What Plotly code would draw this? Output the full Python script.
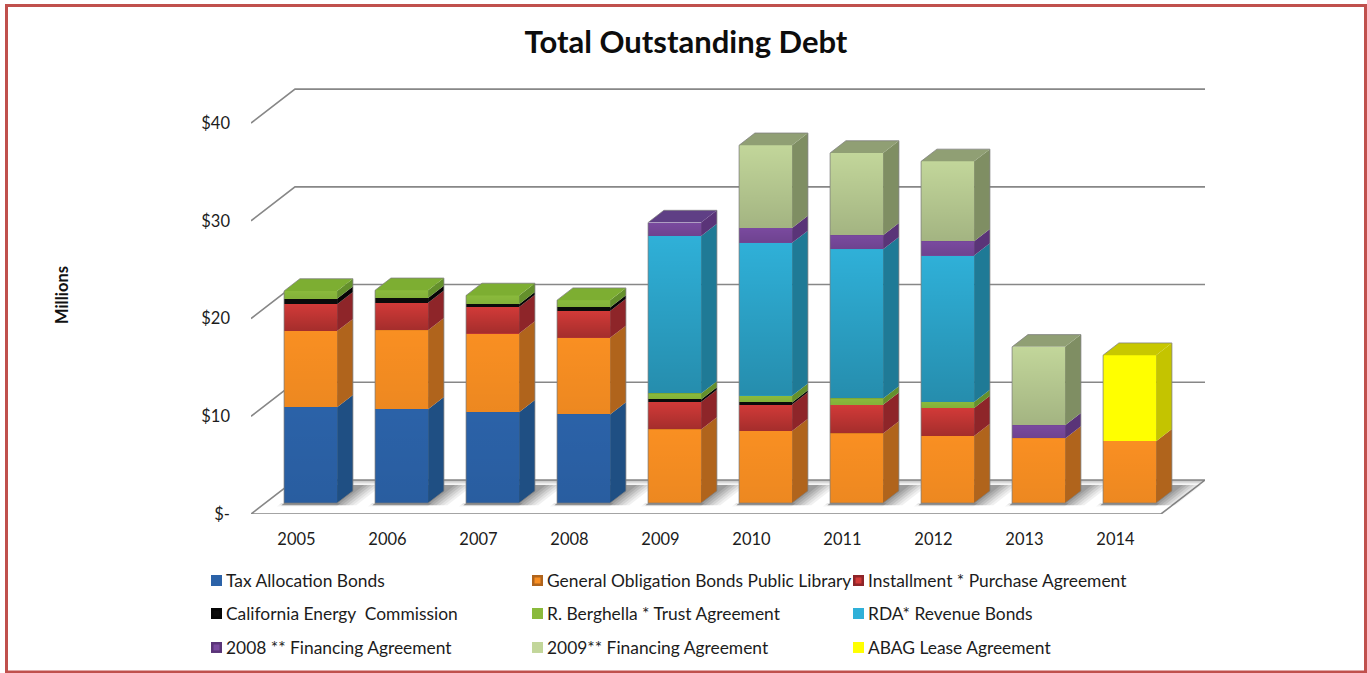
import plotly.graph_objects as go

# Chart data, in millions of dollars
years = ["2005", "2006", "2007", "2008", "2009", "2010", "2011", "2012", "2013", "2014"]
tax_allocation = [9.8, 9.6, 9.3, 9.07, 0, 0, 0, 0, 0, 0]
general_obligation = [7.8, 8.1, 8.05, 7.84, 7.54, 7.37, 7.13, 6.88, 6.62, 6.34]
installment = [2.76, 2.8, 2.72, 2.76, 2.82, 2.73, 2.93, 2.86, 0, 0]
california_energy = [0.55, 0.5, 0.28, 0.35, 0.25, 0.2, 0, 0, 0, 0]
berghella_trust = [0.8, 0.78, 0.9, 0.75, 0.61, 0.68, 0.65, 0.61, 0, 0]
rda_revenue = [0, 0, 0, 0, 16.12, 15.65, 15.27, 14.98, 0, 0]
financing_2008 = [0, 0, 0, 0, 1.37, 1.53, 1.43, 1.46, 1.36, 0]
financing_2009 = [0, 0, 0, 0, 0, 8.46, 8.42, 8.18, 8.01, 0]
abag_lease = [0, 0, 0, 0, 0, 0, 0, 0, 0, 8.8]

series_names = [
    "Tax Allocation Bonds", "General Obligation Bonds Public Library",
    "Installment * Purchase Agreement", "California Energy  Commission",
    "R. Berghella * Trust Agreement", "RDA* Revenue Bonds",
    "2008 ** Financing Agreement", "2009** Financing Agreement", "ABAG Lease Agreement",
]
series_values = [
    tax_allocation, general_obligation, installment, california_energy,
    berghella_trust, rda_revenue, financing_2008, financing_2009, abag_lease,
]
y_ticks = [0, 10, 20, 30, 40]
y_tick_labels = ["$-", "$10", "$20", "$30", "$40"]

# Face colours per series: front, side, top
front_colors = ["#2b62a8", "#f98f22", "#d23a38", "#0b0b0b", "#8aba3c", "#2fb0d8", "#7a4a9f", "#c2d69a", "#ffff00"]
side_colors = ["#1f4f83", "#b0641c", "#8e2529", "#060606", "#64902c", "#1f7a96", "#5a3478", "#7f8e63", "#c4c400"]
top_colors = ["#2a5c98", "#c87a20", "#a52d2d", "#111111", "#7dae32", "#2490b0", "#5f3f85", "#909f74", "#c8c800"]
gradient_strength = [0.05, 0.05, 0.22, 0.0, 0.05, 0.2, 0.1, 0.16, 0.0]

# Pixel layout of the plotting frame
WIDTH, HEIGHT = 1367, 673
LEFT, RIGHT_EDGE, BOTTOM_PX = 251, 1205, 514
PX_PER_CAT, PX_PER_UNIT = 91.0, 9.775
Y_MAX = 44.0
TOP_PX = BOTTOM_PX - Y_MAX * PX_PER_UNIT

# Oblique projection: how far a full step into the depth moves a point
WALL_DX = 44 / PX_PER_CAT
WALL_DY = 34 / PX_PER_UNIT
BAR_FRONT, BAR_BACK = 0.32, 0.68
BAR_WIDTH = 53 / PX_PER_CAT
GRID_COLOR = "#878787"


def project(x, y, depth):
    return x + depth * WALL_DX, y + depth * WALL_DY


def paper_x(px):
    return (px - LEFT) / (RIGHT_EDGE - LEFT)


def paper_y(py):
    return (BOTTOM_PX - py) / (BOTTOM_PX - TOP_PX)


def polygon_path(points):
    return "M" + " L".join(f"{x:.4f},{y:.4f}" for x, y in points) + " Z"


def face(x0, x1, y0, y1, depth):
    return [project(x0, y0, depth), project(x1, y0, depth), project(x1, y1, depth), project(x0, y1, depth)]


def side_face(x, y0, y1):
    return [project(x, y0, BAR_FRONT), project(x, y0, BAR_BACK), project(x, y1, BAR_BACK), project(x, y1, BAR_FRONT)]


def top_face(x0, x1, y):
    return [project(x0, y, BAR_FRONT), project(x1, y, BAR_FRONT), project(x1, y, BAR_BACK), project(x0, y, BAR_BACK)]


def floor_patch(x0, x1, d0, d1):
    return [project(x0, 0, d0), project(x1, 0, d0), project(x1, 0, d1), project(x0, 0, d1)]


def add_polygon(fig, points, color):
    xs = [p[0] for p in points] + [points[0][0]]
    ys = [p[1] for p in points] + [points[0][1]]
    fig.add_trace(go.Scatter(x=xs, y=ys, mode="lines", fill="toself", fillcolor=color,
                             line=dict(width=0, color=color), hoverinfo="skip", showlegend=False))


fig = go.Figure()
n = len(years)
cum = [0.0] * n
shapes = []

# Floor plate
floor_left, floor_right = -0.5, n - 0.5
shapes.append(dict(type="path", path=polygon_path(floor_patch(floor_left, floor_right, 0, 1)),
                   xref="x", yref="y", layer="below", fillcolor="white",
                   line=dict(color=GRID_COLOR, width=1.6)))
# Soft band along the back of the floor
for d0, alpha in ((0.87, 0.14), (0.91, 0.14), (0.95, 0.14)):
    shapes.append(dict(type="path", path=polygon_path(floor_patch(floor_left + (1 - d0) * 0.2, floor_right, d0, 1)),
                       xref="x", yref="y", layer="below", fillcolor=f"rgba(120,120,120,{alpha})", line=dict(width=0)))

# Wall gridlines: a diagonal up the side wall, then along the back wall
for v in y_ticks[1:]:
    a, b, c = project(floor_left, v, 0), project(floor_left, v, 1), project(floor_right, v, 1)
    path = f"M{a[0]:.4f},{a[1]:.4f} L{b[0]:.4f},{b[1]:.4f} L{c[0]:.4f},{c[1]:.4f}"
    shapes.append(dict(type="path", path=path, xref="x", yref="y", layer="below",
                       line=dict(color=GRID_COLOR, width=1.6)))

# Shadows the bars cast on the floor, layered so that they fade away from the column
for i in range(n):
    x0, x1 = i - BAR_WIDTH / 2, i + BAR_WIDTH / 2
    for reach, alpha in ((0.24, 0.08), (0.20, 0.08), (0.16, 0.10), (0.12, 0.12), (0.08, 0.12), (0.04, 0.14)):
        shapes.append(dict(type="path", path=polygon_path(floor_patch(x0, x1 + reach, 0.26, 0.85)),
                           xref="x", yref="y", layer="below",
                           fillcolor=f"rgba(60,60,60,{alpha})", line=dict(width=0)))
    for d0, alpha in ((0.22, 0.06), (0.27, 0.08)):
        shapes.append(dict(type="path", path=polygon_path(floor_patch(x0 - 0.03, x1 + 0.04, d0, BAR_FRONT)),
                           xref="x", yref="y", layer="below",
                           fillcolor=f"rgba(60,60,60,{alpha})", line=dict(width=0)))

# Stacked segments: bars for the front, filled polygons for side and gradient
for s, values in enumerate(series_values):
    bases = [c + BAR_FRONT * WALL_DY for c in cum]
    xs = [i + BAR_FRONT * WALL_DX for i in range(n)]
    fig.add_trace(go.Bar(x=xs, y=values, base=bases, width=BAR_WIDTH, name=series_names[s],
                         marker=dict(color=front_colors[s], line=dict(width=0)), showlegend=False,
                         hovertemplate=series_names[s] + ": %{y}<extra></extra>"))
    for i, v in enumerate(values):
        if v <= 0:
            continue
        x0, x1 = i - BAR_WIDTH / 2, i + BAR_WIDTH / 2
        add_polygon(fig, side_face(x1, cum[i], cum[i] + v), side_colors[s])
        g = gradient_strength[s]
        if g > 0:
            pts = face(x0, x1, cum[i], cum[i] + v, BAR_FRONT)
            fig.add_trace(go.Scatter(
                x=[p[0] for p in pts] + [pts[0][0]], y=[p[1] for p in pts] + [pts[0][1]],
                mode="lines", line=dict(width=0), fill="toself", hoverinfo="skip", showlegend=False,
                fillgradient=dict(type="vertical", colorscale=[[0, f"rgba(0,0,0,{g})"],
                                                               [1, "rgba(0,0,0,0)"]])))
        cum[i] += v

# Top caps and the thin outline around each column
for i in range(n):
    x0, x1 = i - BAR_WIDTH / 2, i + BAR_WIDTH / 2
    top_series = max(s for s, vals in enumerate(series_values) if vals[i] > 0)
    add_polygon(fig, top_face(x0, x1, cum[i]), top_colors[top_series])
    a = project(x0, 0, BAR_FRONT)
    b = project(x0, cum[i], BAR_FRONT)
    c = project(x0, cum[i], BAR_BACK)
    d = project(x1, cum[i], BAR_BACK)
    e = project(x1, 0, BAR_BACK)
    f = project(x1, 0, BAR_FRONT)
    outline = [a, b, c, d, e, f, a]
    fig.add_trace(go.Scatter(x=[p[0] for p in outline], y=[p[1] for p in outline], mode="lines",
                             line=dict(color="rgba(125,125,125,0.75)", width=1),
                             hoverinfo="skip", showlegend=False))

# Legend laid out on a three-row grid
legend_columns = [211, 532, 853]
legend_rows = [580.5, 613.5, 647.5]
annotations = []
for idx, name in enumerate(series_names):
    col, row = idx % 3, idx // 3
    px, py = legend_columns[col], legend_rows[row]
    shapes.append(dict(type="rect", xref="paper", yref="paper",
                       x0=paper_x(px), x1=paper_x(px + 11),
                       y0=paper_y(py + 5.5), y1=paper_y(py - 5.5),
                       fillcolor=side_colors[idx] if idx in (1, 2, 3, 6) else front_colors[idx],
                       line=dict(width=0), layer="above"))
    if idx in (1, 2, 3, 6):
        shapes.append(dict(type="rect", xref="paper", yref="paper",
                           x0=paper_x(px + 2.5), x1=paper_x(px + 8.5),
                           y0=paper_y(py + 3), y1=paper_y(py - 3),
                           fillcolor=front_colors[idx], line=dict(width=0), layer="above"))
    annotations.append(dict(xref="paper", yref="paper", x=paper_x(px + 14), y=paper_y(py),
                            text=name, showarrow=False, xanchor="left", yanchor="middle", borderpad=0,
                            font=dict(family="Lato", size=17.4, color="#1c1c1c")))

annotations.append(dict(xref="paper", yref="paper", x=paper_x(62), y=paper_y(295), text="<b>Millions</b>",
                        showarrow=False, textangle=-90, xanchor="center", yanchor="middle",
                        font=dict(family="Lato", size=16.5, color="#111111")))

# Outer frame of the chart area
shapes.append(dict(type="rect", xref="paper", yref="paper", layer="below",
                   x0=paper_x(6.5), x1=paper_x(1365.5), y0=paper_y(672), y1=paper_y(5.5),
                   fillcolor="rgba(0,0,0,0)", line=dict(color="#c0504d", width=3)))

fig.update_layout(
    width=WIDTH, height=HEIGHT, autosize=False,
    margin=dict(l=LEFT, r=WIDTH - RIGHT_EDGE, t=TOP_PX, b=HEIGHT - BOTTOM_PX, pad=0),
    paper_bgcolor="white", plot_bgcolor="white",
    barmode="overlay", bargap=0, showlegend=False,
    title=dict(text="<b>Total Outstanding Debt</b>", x=686 / WIDTH, y=1 - 42 / HEIGHT,
               xanchor="center", yanchor="middle", xref="container", yref="container",
               font=dict(family="Lato", size=31, color="#0d0d0d")),
    xaxis=dict(range=[floor_left, floor_right + WALL_DX], tickmode="array", tickvals=list(range(n)),
               ticktext=years, showgrid=False, zeroline=False, showline=False, ticks="",
               ticklabelstandoff=13, tickfont=dict(family="Lato", size=16.5, color="#1c1c1c")),
    yaxis=dict(range=[0, Y_MAX], tickmode="array", tickvals=y_ticks, ticktext=y_tick_labels,
               showgrid=False, zeroline=False, showline=False, ticks="",
               ticklabelstandoff=20, tickfont=dict(family="Lato", size=16.5, color="#1c1c1c")),
    shapes=shapes, annotations=annotations,
)

fig.write_html("out.html")
